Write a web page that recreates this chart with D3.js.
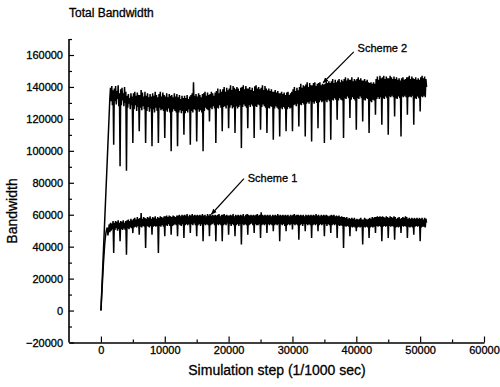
<!DOCTYPE html>
<html>
<head>
<meta charset="utf-8">
<script src="https://cdnjs.cloudflare.com/ajax/libs/d3/7.8.5/d3.min.js"></script>
<style>
body { margin: 0; background: #fff; }
text { font-family: Arial, "Liberation Sans", Helvetica, sans-serif; fill: #000; stroke: #000; stroke-width: 0.3px; }
</style>
</head>
<body>
<div id="grafico"></div>
<script>
// sample spacing on the x axis (simulation steps)
var paso = 100;

// Scheme 2 (top curve) one value every 100 steps, 0 .. 51000 (one row = 1000 steps)
var scheme2 = [
    0, 9500, 19000, 28500, 38000, 47500, 57000, 66500, 76000, 85500,
    95000, 104500, 114000, 123500, 133000, 139500, 131000, 140500, 128500, 138000,
    103800, 139000, 131000, 140500, 129000, 137500, 132500, 141000, 128000, 136000,
    90300, 138500, 128500, 139500, 131500, 136000, 128000, 140000, 130000, 137000,
    87600, 134500, 127000, 135500, 129500, 133000, 126000, 136000, 128500, 134000,
    104900, 136000, 126000, 137000, 128500, 134500, 125000, 136500, 127500, 135000,
    112200, 135000, 127000, 138000, 125500, 136500, 128000, 134000, 126000, 137000,
    104900, 134500, 125000, 136000, 127500, 133500, 124500, 135500, 126500, 134000,
    102800, 136000, 126000, 134500, 124000, 137000, 127000, 135000, 125000, 133500,
    104900, 135500, 127000, 137000, 125500, 134000, 126000, 136500, 125000, 135000,
    108000, 134000, 125500, 136000, 124500, 133500, 126500, 135500, 124000, 134500,
    99700, 135000, 124500, 133500, 126000, 136000, 125000, 134000, 124000, 135500,
    102800, 133500, 124000, 135000, 125500, 132500, 123500, 134500, 125000, 133000,
    110100, 134500, 123500, 133000, 125000, 135000, 124000, 132500, 126000, 134000,
    103800, 135000, 125000, 136000, 124000, 143000, 126000, 134500, 125500, 135500,
    105900, 134000, 126000, 136000, 124500, 135000, 125500, 133500, 124000, 135500,
    99700, 136000, 125000, 137000, 127000, 134500, 126000, 136500, 125500, 135000,
    118400, 135500, 127000, 137000, 126000, 136000, 128000, 134500, 126500, 136500,
    104900, 137500, 127000, 139000, 126500, 136000, 128500, 138500, 127000, 137000,
    112200, 138500, 127500, 140000, 128000, 137000, 126500, 139500, 128500, 138000,
    114200, 139000, 127000, 141000, 128500, 138000, 126500, 140500, 127500, 139500,
    111100, 138500, 128000, 140000, 126500, 139000, 127500, 137500, 128500, 139500,
    101700, 140000, 127500, 141000, 129000, 138500, 128000, 140500, 127000, 139000,
    114200, 139000, 128500, 140000, 127500, 138000, 129000, 139500, 128000, 137500,
    108000, 140500, 128000, 141000, 127500, 139000, 129000, 140000, 128500, 138500,
    113200, 139500, 127500, 141000, 129000, 138000, 128000, 140500, 127000, 139000,
    111100, 138000, 127000, 139000, 126500, 137500, 128000, 138500, 127500, 137000,
    107000, 137000, 126500, 138000, 128000, 136500, 127000, 137500, 126000, 136000,
    109000, 136000, 127000, 137000, 126000, 135500, 127500, 136500, 126500, 135000,
    112200, 136500, 126000, 137000, 127500, 135000, 126500, 136000, 127000, 137000,
    112200, 138500, 128500, 140000, 129000, 137500, 128000, 139500, 129500, 138000,
    115300, 140000, 129000, 142000, 128500, 139500, 130000, 141000, 129000, 140500,
    109000, 141500, 129500, 143000, 130500, 140000, 129500, 142500, 131000, 141000,
    105900, 141000, 130500, 142500, 129500, 143000, 131000, 140500, 130000, 142000,
    114200, 142500, 130500, 143000, 131500, 141000, 130500, 142000, 131000, 141500,
    104900, 142000, 131500, 144000, 130500, 142500, 132000, 143500, 131000, 142500,
    107000, 143500, 132000, 145000, 131500, 142500, 133000, 144500, 132000, 143000,
    119500, 144000, 131500, 145000, 133000, 143000, 132000, 144500, 131500, 143500,
    108000, 145000, 133000, 146000, 132500, 144000, 134000, 145500, 133000, 144500,
    120500, 144500, 132000, 146000, 133500, 143500, 132500, 145000, 131500, 144000,
    113200, 145000, 133000, 146000, 132500, 144500, 134000, 145500, 133000, 144000,
    118400, 144000, 132000, 145000, 131500, 143500, 133000, 144500, 132500, 143000,
    111100, 142500, 131000, 143000, 130500, 142000, 132000, 143000, 131500, 142000,
    122600, 145000, 132500, 146500, 133500, 144500, 132500, 147000, 133500, 145500,
    116400, 146000, 133000, 147000, 132500, 145000, 134000, 146500, 133000, 145500,
    110100, 145500, 134000, 147000, 133500, 146000, 134500, 145000, 133500, 146500,
    121500, 145000, 133000, 146000, 132500, 144500, 134000, 145500, 133000, 144000,
    109000, 145500, 134000, 146000, 133500, 144500, 134500, 145000, 133500, 146000,
    122600, 146000, 133500, 147000, 134000, 145000, 133500, 146500, 134500, 145500,
    116400, 145000, 133000, 146000, 132500, 144500, 134000, 145500, 133000, 144500,
    124700, 146000, 134000, 147000, 133500, 145500, 134500, 146500, 133500, 145000,
    140000
];

// Scheme 1 (bottom curve) same steps
var scheme1 = [
    0, 7500, 15000, 22500, 30000, 36000, 42000, 46000, 49000, 51000,
    52000, 47000, 50500, 54000, 49000, 55000, 50000, 54500, 51000, 56000,
    36000, 55000, 50500, 56000, 51500, 55500, 50000, 56500, 51000, 55000,
    43400, 56000, 51000, 55500, 50500, 56500, 51500, 55000, 50500, 56000,
    35000, 56500, 51500, 57000, 51000, 56000, 52000, 57500, 51500, 56500,
    48500, 57500, 52000, 58000, 52500, 57000, 52000, 58500, 53000, 57500,
    47500, 58000, 52500, 61000, 52000, 57500, 53000, 58500, 52500, 58000,
    39200, 57500, 53000, 58500, 52500, 58000, 52000, 59000, 53000, 57500,
    47500, 58500, 52500, 58000, 53000, 59000, 52500, 57500, 53000, 58500,
    36000, 58000, 53000, 59000, 52500, 58500, 53500, 58000, 52500, 59000,
    46500, 59000, 53500, 59500, 53000, 58500, 54000, 59500, 53000, 59000,
    47500, 58500, 53000, 59500, 53500, 59000, 54000, 58500, 53500, 59500,
    46500, 59500, 54000, 60000, 53500, 59000, 53000, 60000, 54000, 59500,
    45400, 60000, 53500, 59500, 54000, 60500, 53500, 59000, 54000, 60000,
    48500, 59500, 54000, 60500, 53500, 59500, 54500, 60000, 53500, 59500,
    46500, 60000, 53500, 59500, 54000, 60000, 53000, 59500, 54000, 60500,
    43400, 59500, 54000, 60000, 53500, 59000, 54000, 60500, 53500, 59500,
    46500, 60500, 53500, 59500, 54000, 60000, 54500, 59500, 53500, 60000,
    43400, 59500, 54000, 60000, 53500, 60500, 54000, 59000, 53500, 60000,
    43400, 60000, 53500, 60500, 54000, 59500, 53500, 60000, 54500, 59500,
    47500, 59500, 54000, 60000, 53000, 59500, 54000, 60500, 53500, 59000,
    46500, 60000, 53500, 59500, 54000, 60000, 53000, 59500, 54000, 60000,
    41300, 59500, 54000, 60500, 53500, 59000, 54000, 60000, 53500, 60500,
    47500, 60000, 53500, 59500, 54000, 60000, 54500, 59500, 53500, 60000,
    48500, 59500, 54000, 60000, 53500, 60500, 53500, 59500, 54000, 60000,
    45400, 61500, 53500, 60000, 54000, 59500, 53500, 60000, 54000, 59500,
    48500, 60000, 54000, 59500, 53500, 60000, 54000, 59000, 53500, 60000,
    49600, 59500, 53500, 60000, 54000, 59500, 53500, 60500, 54000, 59500,
    43400, 60000, 54000, 59500, 53500, 60000, 54000, 59500, 53000, 60000,
    49600, 59500, 53500, 60000, 54000, 59000, 53500, 60000, 54000, 59500,
    50700, 60000, 54000, 60500, 53500, 59500, 54000, 60000, 53500, 60000,
    44400, 59500, 53500, 60000, 54000, 59500, 53000, 60000, 54000, 59000,
    49600, 60000, 54000, 59500, 53500, 60000, 54000, 59500, 53500, 60000,
    45400, 59500, 53500, 60000, 54000, 59500, 53500, 60500, 54000, 59500,
    49600, 60000, 53500, 59000, 54000, 60000, 53500, 59500, 54000, 60000,
    46500, 59500, 54000, 60000, 53000, 59500, 54000, 59000, 53500, 59500,
    48500, 60000, 53500, 59500, 54000, 60000, 53500, 59000, 54000, 59500,
    45400, 59000, 53500, 59500, 53000, 58500, 53500, 59000, 53000, 58500,
    39200, 58500, 53000, 58000, 52500, 58500, 53000, 57500, 52500, 58000,
    46500, 57500, 52500, 58000, 52000, 57500, 52500, 58000, 52000, 57000,
    49600, 57500, 52000, 57000, 52500, 57500, 52000, 58000, 52500, 57000,
    41300, 57000, 52500, 58000, 52000, 57500, 52500, 57000, 52000, 57500,
    45400, 58000, 52000, 57500, 52500, 58500, 52000, 58000, 52500, 58500,
    48500, 58500, 53000, 59000, 52500, 58500, 53000, 59000, 52500, 58500,
    43400, 59000, 52500, 58500, 53000, 58000, 52500, 59000, 53000, 58500,
    45400, 58000, 53000, 59000, 52500, 58500, 53000, 58000, 52500, 59000,
    44400, 58500, 52000, 57500, 52500, 58000, 52000, 58500, 52500, 57500,
    48500, 58000, 53000, 58500, 52500, 58000, 53000, 59000, 52500, 58500,
    45400, 57500, 52500, 58000, 52000, 57500, 52500, 58000, 52000, 57500,
    47500, 58000, 52500, 57500, 53000, 58000, 52500, 57500, 53000, 58000,
    43400, 57500, 52000, 58000, 52500, 57000, 52500, 58000, 52000, 57500,
    55000
];

var xTicks = [0, 10000, 20000, 30000, 40000, 50000, 60000];
var yTicks = [-20000, 0, 20000, 40000, 60000, 80000, 100000, 120000, 140000, 160000];

// labels: [text, label x, label y, arrow from x, from y, arrow to x, to y] in data units
var notas = [
    ["Scheme 2", 40200, 164300, 39600, 162000, 34800, 142600],
    ["Scheme 1", 23000, 82900, 22400, 82600, 17300, 60300]
];

var canvas = d3.select("#grafico").append("svg").attr("width", 500).attr("height", 387);

var xScale = d3.scaleLinear().domain([-5000, 60000]).range([69, 484]);
var yScale = d3.scaleLinear().domain([-20000, 160000]).range([342.5, 55]);

canvas.append("text")
    .attr("x", 69).attr("y", 17)
    .style("font-size", "12px")
    .text("Total Bandwidth");

// minor ticks first, then the major ones with labels
var yMenor = d3.range(-10000, 170001, 20000);
canvas.append("g")
    .attr("transform", "translate(69,0)")
    .call(d3.axisLeft(yScale).tickValues(yMenor).tickSizeInner(-3).tickSizeOuter(0).tickFormat(""))
    .call(g => g.select(".domain").remove());

canvas.append("g")
    .attr("transform", "translate(0,342.5)")
    .call(d3.axisBottom(xScale).tickValues([5000, 15000, 25000, 35000, 45000, 55000]).tickSizeInner(-3).tickSizeOuter(0).tickFormat(""))
    .call(g => g.select(".domain").remove());

var ejeY = canvas.append("g")
    .attr("transform", "translate(69,0)")
    .call(d3.axisLeft(yScale).tickValues(yTicks).tickSizeInner(-5).tickSizeOuter(0).tickPadding(6).tickFormat(d3.format("d")));
ejeY.select(".domain").attr("d", "M0," + yScale(170000) + "V" + yScale(-20000));
ejeY.selectAll("text").style("font-size", "11px").style("font-family", "Arial, 'Liberation Sans', sans-serif");

var ejeX = canvas.append("g")
    .attr("transform", "translate(0,342.5)")
    .call(d3.axisBottom(xScale).tickValues(xTicks).tickSizeInner(-6).tickSizeOuter(0).tickPadding(4).tickFormat(d3.format("d")));
ejeX.selectAll("text").style("font-size", "11px").style("font-family", "Arial, 'Liberation Sans', sans-serif");

canvas.selectAll(".domain").attr("stroke-width", 1.6);
canvas.selectAll(".tick line").attr("stroke-width", 1.2);

// top stub of the y axis
canvas.append("g")
    .attr("transform", "translate(69,0)")
    .call(d3.axisLeft(yScale).tickValues([170000]).tickSizeInner(-3).tickSizeOuter(0).tickFormat(""))
    .call(g => g.select(".domain").remove());

canvas.append("text")
    .attr("x", 277).attr("y", 375)
    .attr("text-anchor", "middle")
    .style("font-size", "14px")
    .text("Simulation step (1/1000 sec)");

canvas.append("text")
    .attr("transform", "translate(17,211) rotate(-90)")
    .attr("text-anchor", "middle")
    .style("font-size", "14px")
    .text("Bandwidth");

var linea = d3.line()
    .x(function (d, i) { return xScale(i * paso); })
    .y(function (d) { return yScale(d); });

[scheme2, scheme1].forEach(function (serie) {
    canvas.append("path")
        .datum(serie)
        .attr("fill", "none")
        .attr("stroke", "#000")
        .attr("stroke-width", 1.5)
        .attr("stroke-linejoin", "miter")
        .attr("stroke-miterlimit", 2)
        .attr("d", linea);
});

canvas.append("defs").append("marker")
    .attr("id", "punta")
    .attr("viewBox", "0 0 10 10")
    .attr("refX", 9).attr("refY", 5)
    .attr("markerWidth", 5).attr("markerHeight", 5)
    .attr("orient", "auto")
    .append("path").attr("d", "M0,1L10,5L0,9z").attr("fill", "#000");

notas.forEach(function (n) {
    canvas.append("line")
        .attr("x1", xScale(n[3])).attr("y1", yScale(n[4]))
        .attr("x2", xScale(n[5])).attr("y2", yScale(n[6]))
        .attr("stroke", "#000").attr("stroke-width", 1.2)
        .attr("marker-end", "url(#punta)");
    canvas.append("text")
        .attr("x", xScale(n[1])).attr("y", yScale(n[2]))
        .attr("dy", "0.35em")
        .style("font-size", "11px")
        .text(n[0]);
});
</script>
</body>
</html>
